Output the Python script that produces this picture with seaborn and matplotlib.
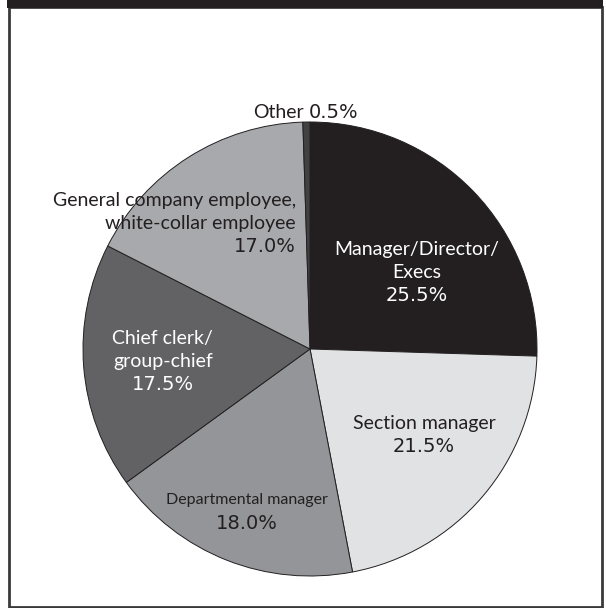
import matplotlib
matplotlib.use("Agg")
import matplotlib.pyplot as plt
from matplotlib.patches import Rectangle
import seaborn as sns

# Occupation shares (percent), clockwise from the top
categories = [
    "Manager/Director/\nExecs",
    "Section manager",
    "Departmental manager",
    "Chief clerk/\ngroup-chief",
    "General company employee,\nwhite-collar employee",
    "Other",
]
shares = [25.5, 21.5, 18.0, 17.5, 17.0, 0.5]

# Styling for each wedge and its label
wedge_colors = ["#231f20", "#e1e2e4", "#939598", "#626265", "#a8a9ad", "#414042"]
text_colors = ["white", "#231f20", "#231f20", "white", "#231f20", "#231f20"]
# label anchor in pie units (radius = 1): x, block centre y
label_pos = [(0.471, 0.339), (0.502, -0.377), (-0.278, -0.718),
             (-0.648, -0.053), (-0.062, 0.555), (-0.022, 1.044)]
label_ha = ["center", "center", "center", "center", "right", "center"]
name_size = [14, 14, 11.5, 14, 14, 14]
pct_size = 14
pitch = 23 / 227  # line pitch in pie units

sns.set_theme(style="white")
plt.rcParams["font.family"] = ["Lato", "DejaVu Sans"]
name_font = ["Lato", "DejaVu Sans"]
pct_font = ["DejaVu Sans"]

W, H = 606, 608
fig = plt.figure(figsize=(W / 100, H / 100), dpi=100)
fig.patch.set_facecolor("white")

# Frame: thin border with a black band on top
fig.patches.append(Rectangle((8.5 / W, 1.5 / H), 593 / W, 600 / H, transform=fig.transFigure,
                             facecolor="none", edgecolor="#3a3a3a", linewidth=2.0))
fig.patches.append(Rectangle((7 / W, (H - 7.5) / H), 596 / W, 7.5 / H, transform=fig.transFigure,
                             facecolor="#231f20", edgecolor="none"))

cx, cy, r = 310, 349, 227
pad = 1.05
ax = fig.add_axes([(cx - r * pad) / W, (H - cy - r * pad) / H, 2 * r * pad / W, 2 * r * pad / H])
ax.pie(shares, colors=wedge_colors, startangle=90, counterclock=False, radius=1,
       wedgeprops=dict(edgecolor="#231f20", linewidth=0.7))
ax.set_xlim(-pad, pad)
ax.set_ylim(-pad, pad)
ax.set_aspect("auto")
ax.axis("off")

for name, val, (x, y), col, ha, fs in zip(categories, shares, label_pos, text_colors, label_ha, name_size):
    pct = f"{val:.1f}%"
    if name == "Other":
        ax.text(x - 0.005, y, name, ha="right", va="center", color=col, fontsize=fs,
                family=name_font, clip_on=False)
        ax.text(x + 0.017, y, pct, ha="left", va="center", color=col, fontsize=pct_size,
                family=pct_font, clip_on=False)
        continue
    lines = name.split("\n")
    n = len(lines) + 1
    for i, line in enumerate(lines):
        ly = y + ((n - 1) / 2 - i) * pitch
        ax.text(x, ly, line, ha=ha, va="center", color=col, fontsize=fs,
                family=name_font, clip_on=False)
    ly = y + ((n - 1) / 2 - (n - 1)) * pitch
    ax.text(x, ly, pct, ha=ha, va="center", color=col, fontsize=pct_size,
            family=pct_font, clip_on=False)

fig.savefig("out.png", dpi=100)
